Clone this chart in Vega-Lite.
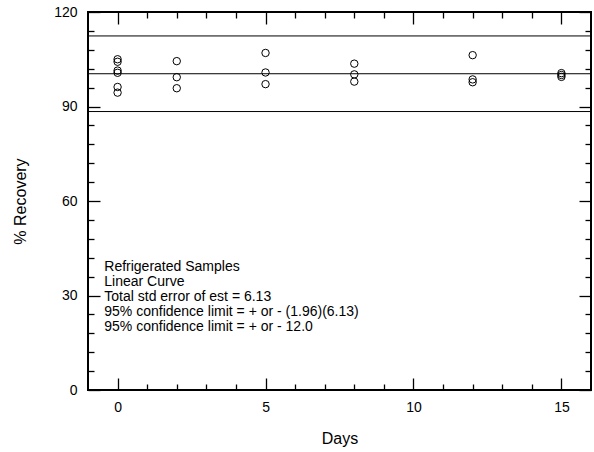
{
  "$schema": "https://vega.github.io/schema/vega-lite/v6.json",
  "width": 503,
  "height": 378,
  "autosize": {"type": "none"},
  "padding": {"left": 88, "top": 12, "right": 3, "bottom": 62},
  "background": "white",
  "config": {
    "view": {"stroke": "black", "strokeWidth": 2},
    "font": "Liberation Sans",
    "axis": {
      "domain": false,
      "grid": false,
      "tickColor": "black",
      "tickWidth": 1.3,
      "labelColor": "black",
      "labelFontSize": 14,
      "labelFont": "Liberation Sans",
      "titleColor": "black",
      "titleFontSize": 16,
      "titleFontWeight": "normal",
      "titleFont": "Liberation Sans"
    }
  },
  "datasets": {
    "points": [
      {"day": 0, "recovery": 105.0},
      {"day": 0, "recovery": 104.2},
      {"day": 0, "recovery": 101.4},
      {"day": 0, "recovery": 100.7},
      {"day": 0, "recovery": 96.2},
      {"day": 0, "recovery": 94.4},
      {"day": 2, "recovery": 104.4},
      {"day": 2, "recovery": 99.3},
      {"day": 2, "recovery": 95.8},
      {"day": 5, "recovery": 107.0},
      {"day": 5, "recovery": 100.8},
      {"day": 5, "recovery": 97.1},
      {"day": 8, "recovery": 103.6},
      {"day": 8, "recovery": 100.2},
      {"day": 8, "recovery": 97.9},
      {"day": 12, "recovery": 106.3},
      {"day": 12, "recovery": 98.6},
      {"day": 12, "recovery": 97.7},
      {"day": 15, "recovery": 100.6},
      {"day": 15, "recovery": 100.0},
      {"day": 15, "recovery": 99.4}
    ],
    "limits": [
      {"level": 112.4},
      {"level": 100.4},
      {"level": 88.4}
    ],
    "notes": [
      {"x": -0.45, "y": 39.0, "t": "Refrigerated Samples"},
      {"x": -0.45, "y": 34.3, "t": "Linear Curve"},
      {"x": -0.45, "y": 29.5, "t": "Total std error of est = 6.13"},
      {"x": -0.45, "y": 24.8, "t": "95% confidence limit = + or - (1.96)(6.13)"},
      {"x": -0.45, "y": 20.0, "t": "95% confidence limit = + or - 12.0"}
    ]
  },
  "layer": [
    {
      "data": {"name": "points"},
      "mark": {"type": "point", "shape": "circle", "filled": false, "stroke": "black", "strokeWidth": 1, "size": 55, "opacity": 1},
      "encoding": {
        "x": {
          "field": "day", "type": "quantitative",
          "scale": {"domain": [-1, 16], "nice": false, "zero": false},
          "axis": {
            "orient": "bottom",
            "title": "Days",
            "values": [0,1,2,3,4,5,6,7,8,9,10,11,12,13,14,15],
            "labelExpr": "datum.value % 5 === 0 ? datum.label : ''",
            "tickSize": {"condition": {"test": "datum.value % 5 === 0", "value": -12}, "value": -6},
            "labelPadding": 22,
            "titlePadding": 16
          }
        },
        "y": {
          "field": "recovery", "type": "quantitative",
          "scale": {"domain": [0, 120], "nice": false, "zero": true},
          "axis": {
            "orient": "left",
            "title": "% Recovery",
            "values": [0,6,12,18,24,30,36,42,48,54,60,66,72,78,84,90,96,102,108,114,120],
            "labelExpr": "datum.value % 30 === 0 ? datum.label : ''",
            "tickSize": {"condition": {"test": "datum.value % 30 === 0", "value": -12}, "value": -6},
            "labelPadding": 23,
            "titlePadding": 25
          }
        }
      }
    },
    {
      "data": {"name": "limits"},
      "mark": {"type": "rule", "stroke": "black", "strokeWidth": 1},
      "encoding": {
        "y": {"field": "level", "type": "quantitative", "axis": null}
      }
    },
    {
      "data": {"name": "notes"},
      "mark": {"type": "text", "align": "left", "baseline": "middle", "fontSize": 14, "font": "Liberation Sans", "color": "black"},
      "encoding": {
        "x": {
          "field": "x", "type": "quantitative",
          "axis": {
            "orient": "top",
            "title": null,
            "labels": false,
            "values": [0,1,2,3,4,5,6,7,8,9,10,11,12,13,14,15],
            "tickSize": {"condition": {"test": "datum.value % 5 === 0", "value": -12}, "value": -6}
          }
        },
        "y": {
          "field": "y", "type": "quantitative",
          "axis": {
            "orient": "right",
            "title": null,
            "labels": false,
            "values": [0,6,12,18,24,30,36,42,48,54,60,66,72,78,84,90,96,102,108,114,120],
            "tickSize": {"condition": {"test": "datum.value % 30 === 0", "value": -12}, "value": -6}
          }
        },
        "text": {"field": "t"}
      }
    }
  ],
  "resolve": {"scale": {"x": "shared", "y": "shared"}, "axis": {"x": "independent", "y": "independent"}}
}
